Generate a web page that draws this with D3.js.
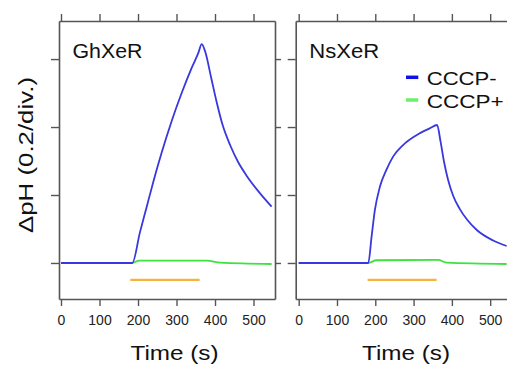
<!DOCTYPE html>
<html><head><meta charset="utf-8">
<script src="https://cdn.jsdelivr.net/npm/d3@7"></script>
<style>
html,body{margin:0;padding:0;background:#fff;}
svg{display:block;font-family:"Liberation Sans",Arial,sans-serif;}
</style></head>
<body>
<svg id="c" width="507" height="368"></svg>
<script>
// ---- data ----
const xTicks = [0, 100, 200, 300, 400, 500];
const yTicks = [0, 0.2, 0.4, 0.6];
const lightOn = [180, 360];
const lightLevel = -0.05;

const ghMinusT = [0, 185, 205, 222.5, 240, 261.5, 287.5, 313.4, 339.4, 356.7, 365.4, 375, 390, 405, 420, 440, 460, 482, 517, 547];
const ghMinusV = [0, 0, 0.09, 0.165, 0.24, 0.325, 0.418, 0.5, 0.574, 0.618, 0.644, 0.62, 0.545, 0.47, 0.405, 0.345, 0.297, 0.257, 0.205, 0.166];
const ghPlusT = [0, 185, 203, 378, 413, 547];
const ghPlusV = [0, 0, 0.007, 0.007, 0.001, -0.003];

const nsMinusT = [0, 181.7, 190.3, 199, 212, 229, 246.5, 272.6, 307.6, 342.3, 361.5, 370, 380, 390, 403.6, 420, 440, 465, 508, 543];
const nsMinusV = [0, 0, 0.077, 0.156, 0.224, 0.274, 0.313, 0.347, 0.376, 0.396, 0.406, 0.36, 0.295, 0.245, 0.197, 0.16, 0.127, 0.097, 0.066, 0.05];
const nsPlusT = [0, 181.7, 203, 364, 386, 543];
const nsPlusV = [0, 0, 0.008, 0.009, 0.001, -0.003];

const panelNames = ["GhXeR", "NsXeR"];
const seriesNames = ["CCCP-", "CCCP+"];
const seriesColors = ["#3838de", "#3ee23e"];
const legendColors = ["#1010e6", "#6cf06c"];
const lightColor = "#f7b23e";

// ---- layout ----
const svg = d3.select("#c");
const axisColor = "#555";
const y = d3.scaleLinear().domain([-0.106, 0.712]).range([299, 21]);

const panels = [
  {name: panelNames[0], x0: 59, x1: 275, dom: [-5.2, 555.8], minus: [ghMinusT, ghMinusV], plus: [ghPlusT, ghPlusV], titleX: 174.5},
  {name: panelNames[1], x0: 295.7, x1: 511.7, dom: [-7.8, 556.2], minus: [nsMinusT, nsMinusV], plus: [nsPlusT, nsPlusV], titleX: 406}
];

function styleAxis(g) {
  g.selectAll("path.domain").attr("stroke", axisColor).attr("stroke-width", 1.6);
  g.selectAll(".tick line").attr("stroke", axisColor).attr("stroke-width", 1.4);
  g.selectAll(".tick text").attr("fill", "#222").style("font-size", "14px")
   .style("font-family", '"Liberation Sans",Arial,sans-serif');
}

panels.forEach((p, i) => {
  const x = d3.scaleLinear().domain(p.dom).range([p.x0, p.x1]);
  const g = svg.append("g");

  // orange light bar
  g.append("line")
    .attr("x1", x(lightOn[0])).attr("x2", x(lightOn[1]))
    .attr("y1", y(lightLevel)).attr("y2", y(lightLevel))
    .attr("stroke", lightColor).attr("stroke-width", 2.2);

  const line = d3.line().x(d => x(d[0])).y(d => y(d[1])).curve(d3.curveMonotoneX);
  const plusData = p.plus[0].map((t, k) => [t, p.plus[1][k]]);
  const minusData = p.minus[0].map((t, k) => [t, p.minus[1][k]]);
  g.append("path").datum(plusData).attr("d", line)
    .attr("fill", "none").attr("stroke", seriesColors[1]).attr("stroke-width", 1.8);
  g.append("path").datum(minusData).attr("d", line)
    .attr("fill", "none").attr("stroke", seriesColors[0]).attr("stroke-width", 1.8);

  // axes
  const bottom = g.append("g").attr("transform", `translate(0,${y.range()[0]})`)
    .call(d3.axisBottom(x).tickValues(xTicks).tickSizeInner(7).tickSizeOuter(0).tickPadding(9));
  styleAxis(bottom);
  const top = g.append("g").attr("transform", `translate(0,${y.range()[1]})`)
    .call(d3.axisTop(x).tickValues(xTicks).tickSizeInner(7).tickSizeOuter(0).tickFormat(""));
  styleAxis(top);
  const left = g.append("g").attr("transform", `translate(${p.x0},0)`)
    .call(d3.axisLeft(y).tickValues(yTicks).tickSizeInner(8).tickSizeOuter(0).tickFormat(""));
  styleAxis(left);
  if (i === 0) {
    const right = g.append("g").attr("transform", `translate(${p.x1},0)`)
      .call(d3.axisRight(y).tickValues(yTicks).tickSizeInner(6).tickSizeOuter(0).tickFormat(""));
    styleAxis(right);
  }

  // panel name
  g.append("text").attr("x", p.x0 + 13.5).attr("y", 58.3)
    .attr("textLength", 70).attr("lengthAdjust", "spacingAndGlyphs")
    .style("font-size", "20px").attr("fill", "#111").text(p.name);

  // x title
  g.append("text").attr("x", p.titleX).attr("y", 360)
    .attr("text-anchor", "middle")
    .attr("textLength", 88).attr("lengthAdjust", "spacingAndGlyphs")
    .style("font-size", "21px").attr("fill", "#111").text("Time (s)");
});

// y title
svg.append("text").attr("transform", "translate(33,155) rotate(-90)")
  .attr("text-anchor", "middle")
  .attr("textLength", 156).attr("lengthAdjust", "spacingAndGlyphs")
  .style("font-size", "21px").attr("fill", "#111").text("ΔpH (0.2/div.)");

// legend
const legY = [77.3, 100];
seriesNames.forEach((s, k) => {
  svg.append("line").attr("x1", 406).attr("x2", 418.3).attr("y1", legY[k]).attr("y2", legY[k])
    .attr("stroke", legendColors[k]).attr("stroke-width", 3.5);
  svg.append("text").attr("x", 426.7).attr("y", legY[k] + 7.5)
    .attr("textLength", k === 0 ? 70 : 77).attr("lengthAdjust", "spacingAndGlyphs")
    .style("font-size", "19px").attr("fill", "#111").text(s);
});
</script>
</body></html>
